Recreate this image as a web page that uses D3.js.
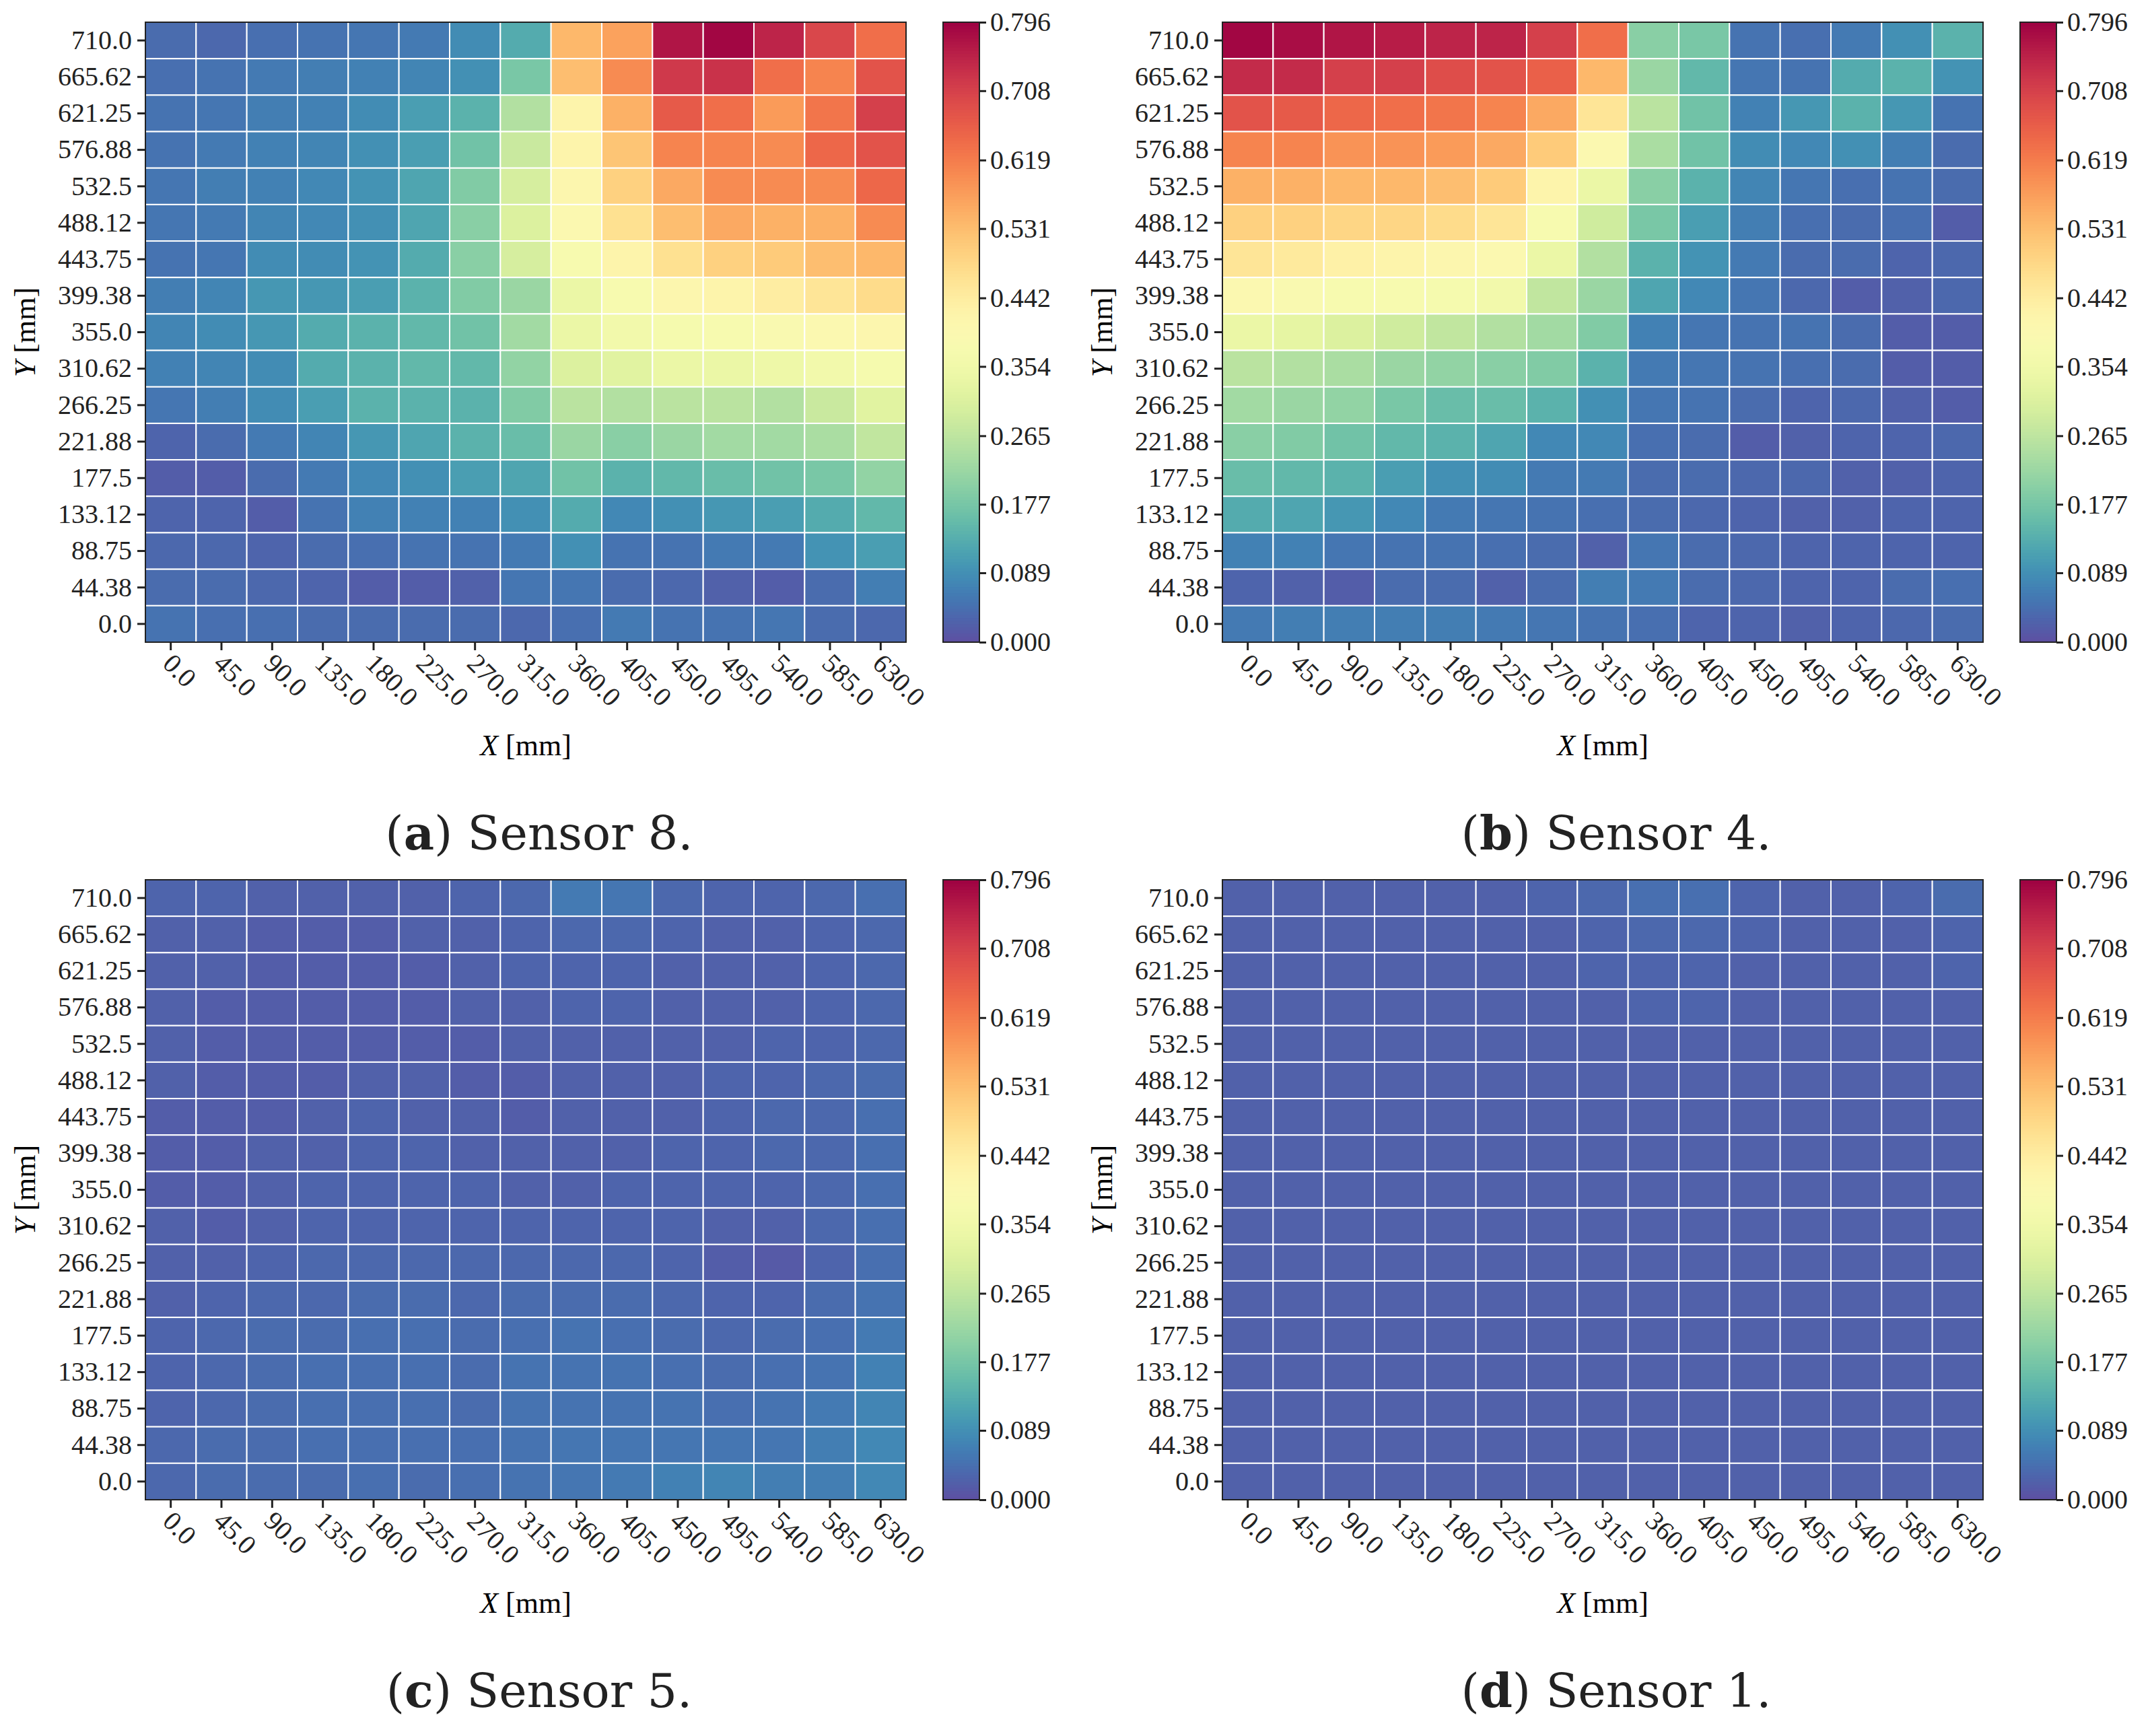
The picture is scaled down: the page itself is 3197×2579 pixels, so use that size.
<!DOCTYPE html>
<html><head><meta charset="utf-8">
<script src="https://cdn.jsdelivr.net/npm/d3@7"></script>
<style>body{margin:0;background:#fff}</style>
</head><body>
<svg id="fig" width="3197" height="2579"></svg>
<script>
var xLabels = ["0.0","45.0","90.0","135.0","180.0","225.0","270.0","315.0","360.0","405.0","450.0","495.0","540.0","585.0","630.0"];
var yLabels = ["710.0","665.62","621.25","576.88","532.5","488.12","443.75","399.38","355.0","310.62","266.25","221.88","177.5","133.12","88.75","44.38","0.0"];
var cbTicks = ["0.000","0.089","0.177","0.265","0.354","0.442","0.531","0.619","0.708","0.796"];
var vmax = 0.796;

// rows from top (710) to bottom (0)
var sensor8 = [
[0.04,0.035,0.045,0.05,0.055,0.06,0.085,0.13,0.54,0.57,0.77,0.79,0.75,0.70,0.64],
[0.045,0.05,0.06,0.065,0.07,0.075,0.09,0.18,0.53,0.60,0.72,0.73,0.64,0.61,0.68],
[0.05,0.055,0.065,0.07,0.085,0.11,0.14,0.25,0.42,0.55,0.67,0.64,0.58,0.63,0.71],
[0.05,0.06,0.07,0.075,0.09,0.11,0.17,0.28,0.42,0.52,0.61,0.61,0.60,0.65,0.68],
[0.055,0.065,0.07,0.08,0.095,0.12,0.19,0.30,0.41,0.50,0.56,0.60,0.60,0.60,0.65],
[0.055,0.06,0.075,0.08,0.09,0.12,0.20,0.31,0.40,0.47,0.53,0.56,0.55,0.55,0.60],
[0.05,0.055,0.085,0.085,0.095,0.13,0.20,0.30,0.38,0.42,0.47,0.50,0.51,0.53,0.54],
[0.065,0.075,0.10,0.10,0.11,0.14,0.19,0.22,0.34,0.38,0.41,0.42,0.44,0.46,0.48],
[0.075,0.085,0.10,0.13,0.14,0.15,0.17,0.23,0.34,0.36,0.37,0.38,0.39,0.40,0.41],
[0.07,0.075,0.085,0.13,0.14,0.15,0.15,0.21,0.31,0.32,0.34,0.34,0.35,0.36,0.37],
[0.055,0.065,0.085,0.11,0.14,0.14,0.14,0.19,0.26,0.25,0.26,0.26,0.25,0.28,0.32],
[0.03,0.04,0.06,0.075,0.10,0.12,0.14,0.16,0.22,0.20,0.22,0.23,0.23,0.24,0.27],
[0.02,0.02,0.04,0.06,0.08,0.09,0.11,0.12,0.17,0.14,0.15,0.16,0.17,0.18,0.21],
[0.03,0.03,0.02,0.05,0.07,0.07,0.07,0.09,0.13,0.08,0.09,0.10,0.11,0.13,0.15],
[0.035,0.035,0.03,0.04,0.045,0.05,0.05,0.06,0.09,0.05,0.05,0.06,0.06,0.095,0.11],
[0.04,0.04,0.035,0.03,0.02,0.02,0.025,0.055,0.055,0.04,0.035,0.025,0.02,0.04,0.065],
[0.05,0.045,0.045,0.04,0.04,0.04,0.04,0.035,0.045,0.06,0.05,0.05,0.055,0.04,0.035]
];
var sensor4 = [
[0.79,0.78,0.77,0.76,0.75,0.75,0.71,0.64,0.20,0.18,0.05,0.045,0.06,0.09,0.14],
[0.74,0.74,0.71,0.71,0.69,0.68,0.66,0.54,0.22,0.15,0.055,0.05,0.13,0.14,0.095],
[0.68,0.67,0.65,0.64,0.63,0.61,0.56,0.46,0.26,0.17,0.07,0.10,0.14,0.10,0.05],
[0.61,0.61,0.59,0.59,0.58,0.56,0.51,0.40,0.24,0.17,0.085,0.08,0.09,0.065,0.04],
[0.55,0.55,0.54,0.54,0.53,0.51,0.42,0.34,0.20,0.14,0.075,0.055,0.045,0.05,0.04],
[0.50,0.50,0.49,0.49,0.48,0.46,0.38,0.29,0.18,0.11,0.065,0.045,0.04,0.045,0.02],
[0.46,0.45,0.43,0.42,0.41,0.40,0.34,0.25,0.14,0.095,0.06,0.04,0.04,0.03,0.035],
[0.40,0.39,0.38,0.38,0.37,0.36,0.27,0.22,0.12,0.08,0.055,0.035,0.02,0.025,0.035],
[0.34,0.33,0.31,0.29,0.27,0.25,0.23,0.19,0.07,0.055,0.05,0.05,0.04,0.02,0.02],
[0.26,0.25,0.24,0.22,0.21,0.20,0.19,0.14,0.06,0.055,0.05,0.045,0.04,0.02,0.02],
[0.23,0.22,0.21,0.18,0.16,0.16,0.14,0.09,0.055,0.05,0.04,0.03,0.035,0.025,0.02],
[0.20,0.19,0.17,0.15,0.14,0.12,0.08,0.08,0.045,0.04,0.02,0.025,0.03,0.03,0.035],
[0.16,0.15,0.14,0.11,0.09,0.085,0.06,0.06,0.04,0.04,0.035,0.035,0.025,0.025,0.03],
[0.13,0.12,0.10,0.08,0.06,0.055,0.05,0.045,0.04,0.035,0.03,0.025,0.025,0.03,0.03],
[0.07,0.07,0.055,0.05,0.05,0.045,0.04,0.025,0.055,0.04,0.035,0.03,0.03,0.03,0.03],
[0.03,0.025,0.02,0.04,0.04,0.025,0.04,0.065,0.06,0.04,0.035,0.03,0.03,0.04,0.045],
[0.06,0.065,0.065,0.065,0.065,0.06,0.055,0.05,0.045,0.03,0.03,0.025,0.03,0.035,0.04]
];
var sensor5 = [
[0.03,0.03,0.025,0.025,0.025,0.025,0.03,0.035,0.06,0.055,0.035,0.03,0.03,0.035,0.045],
[0.025,0.025,0.02,0.02,0.02,0.025,0.025,0.03,0.035,0.035,0.03,0.025,0.025,0.03,0.035],
[0.025,0.025,0.02,0.02,0.02,0.02,0.025,0.03,0.03,0.03,0.025,0.025,0.025,0.03,0.035],
[0.025,0.02,0.02,0.02,0.02,0.02,0.025,0.025,0.03,0.03,0.025,0.025,0.025,0.03,0.035],
[0.025,0.02,0.02,0.02,0.02,0.02,0.02,0.025,0.025,0.025,0.025,0.025,0.03,0.03,0.035],
[0.025,0.02,0.02,0.02,0.025,0.025,0.02,0.02,0.025,0.025,0.025,0.03,0.03,0.035,0.04],
[0.02,0.02,0.02,0.025,0.03,0.025,0.025,0.02,0.025,0.025,0.025,0.03,0.035,0.035,0.045],
[0.02,0.02,0.025,0.025,0.03,0.03,0.025,0.025,0.025,0.025,0.03,0.03,0.035,0.035,0.045],
[0.02,0.02,0.025,0.03,0.03,0.03,0.03,0.025,0.025,0.03,0.03,0.03,0.03,0.035,0.045],
[0.025,0.02,0.025,0.03,0.03,0.03,0.03,0.03,0.03,0.03,0.03,0.025,0.025,0.035,0.045],
[0.025,0.025,0.03,0.035,0.035,0.035,0.035,0.035,0.035,0.035,0.03,0.02,0.015,0.03,0.045],
[0.025,0.03,0.035,0.035,0.04,0.04,0.035,0.04,0.04,0.04,0.035,0.03,0.03,0.04,0.05],
[0.03,0.035,0.04,0.04,0.045,0.045,0.04,0.045,0.05,0.045,0.04,0.035,0.04,0.045,0.06],
[0.03,0.035,0.04,0.045,0.045,0.045,0.04,0.05,0.05,0.05,0.045,0.04,0.045,0.05,0.07],
[0.03,0.035,0.04,0.045,0.045,0.045,0.04,0.05,0.05,0.05,0.05,0.045,0.05,0.06,0.075],
[0.035,0.04,0.04,0.045,0.045,0.045,0.045,0.05,0.055,0.055,0.055,0.055,0.055,0.065,0.08],
[0.035,0.04,0.04,0.04,0.045,0.04,0.045,0.05,0.055,0.06,0.07,0.075,0.065,0.065,0.08]
];
var sensor1 = [
[0.025,0.025,0.025,0.025,0.025,0.025,0.03,0.035,0.045,0.045,0.03,0.025,0.025,0.03,0.04],
[0.025,0.025,0.025,0.025,0.025,0.025,0.025,0.03,0.035,0.035,0.03,0.025,0.025,0.025,0.03],
[0.025,0.025,0.025,0.025,0.025,0.025,0.025,0.03,0.03,0.03,0.025,0.025,0.025,0.025,0.03],
[0.025,0.025,0.025,0.025,0.025,0.025,0.025,0.025,0.03,0.03,0.025,0.025,0.025,0.025,0.025],
[0.025,0.025,0.025,0.025,0.025,0.025,0.025,0.025,0.025,0.025,0.025,0.025,0.025,0.025,0.025],
[0.025,0.025,0.025,0.025,0.025,0.025,0.025,0.025,0.025,0.025,0.025,0.025,0.025,0.025,0.025],
[0.025,0.025,0.025,0.025,0.025,0.025,0.025,0.025,0.025,0.025,0.025,0.025,0.025,0.025,0.025],
[0.025,0.025,0.025,0.025,0.025,0.025,0.025,0.025,0.025,0.025,0.025,0.025,0.025,0.025,0.025],
[0.025,0.025,0.025,0.025,0.025,0.025,0.025,0.025,0.025,0.025,0.025,0.025,0.025,0.025,0.025],
[0.025,0.025,0.025,0.025,0.025,0.025,0.025,0.025,0.025,0.025,0.025,0.025,0.025,0.025,0.025],
[0.025,0.025,0.025,0.025,0.025,0.025,0.025,0.025,0.025,0.025,0.025,0.025,0.025,0.025,0.025],
[0.025,0.025,0.025,0.025,0.025,0.025,0.025,0.025,0.025,0.025,0.025,0.025,0.025,0.025,0.025],
[0.025,0.025,0.025,0.025,0.025,0.025,0.025,0.025,0.025,0.025,0.025,0.025,0.025,0.025,0.025],
[0.025,0.025,0.025,0.025,0.025,0.025,0.025,0.025,0.025,0.025,0.025,0.025,0.025,0.025,0.025],
[0.025,0.025,0.025,0.025,0.025,0.025,0.025,0.025,0.025,0.025,0.025,0.025,0.025,0.025,0.025],
[0.025,0.025,0.025,0.025,0.025,0.025,0.025,0.025,0.025,0.025,0.025,0.025,0.025,0.025,0.025],
[0.025,0.025,0.025,0.025,0.025,0.025,0.025,0.025,0.025,0.025,0.025,0.025,0.025,0.025,0.025]
];

var panels = [
  {letter: "a", title: " Sensor 8.", data: sensor8, dx: 0, dy: 0},
  {letter: "b", title: " Sensor 4.", data: sensor4, dx: 1600, dy: 0},
  {letter: "c", title: " Sensor 5.", data: sensor5, dx: 0, dy: 1274},
  {letter: "d", title: " Sensor 1.", data: sensor1, dx: 1600, dy: 1274}
];

var svg = d3.select("#fig");
var font = "'Liberation Serif', 'DejaVu Serif', serif";
var color = function(v) { return d3.interpolateSpectral(1 - v / vmax); };

var plotL = 216, plotT = 33, plotW = 1130, plotH = 921;
var cbX = 1401, cbW = 54;

panels.forEach(function(p) {
  var g = svg.append("g").attr("transform", "translate(" + p.dx + "," + p.dy + ")");

  var x = d3.scaleBand().domain(xLabels).range([plotL, plotL + plotW]);
  var y = d3.scaleBand().domain(yLabels).range([plotT, plotT + plotH]);

  var cells = [];
  p.data.forEach(function(row, i) {
    row.forEach(function(v, j) { cells.push({x: xLabels[j], y: yLabels[i], v: v}); });
  });

  g.selectAll("rect.cell").data(cells).enter().append("rect")
    .attr("class", "cell")
    .attr("x", function(d) { return x(d.x); })
    .attr("y", function(d) { return y(d.y); })
    .attr("width", x.bandwidth())
    .attr("height", y.bandwidth())
    .attr("fill", function(d) { return color(d.v); })
    .attr("stroke", "#fff")
    .attr("stroke-width", 2);

  g.append("rect").attr("x", plotL).attr("y", plotT).attr("width", plotW).attr("height", plotH)
    .attr("fill", "none").attr("stroke", "#222").attr("stroke-width", 2);

  var xa = g.append("g").attr("transform", "translate(0," + (plotT + plotH) + ")")
    .call(d3.axisBottom(x).tickSize(12).tickSizeOuter(0));
  xa.selectAll("text").attr("font-size", 40).attr("font-family", font).attr("fill", "#222")
    .attr("text-anchor", "start").attr("x", 0).attr("y", 0).attr("dy", 0)
    .attr("transform", "translate(-14,34) rotate(45)");

  var ya = g.append("g").attr("transform", "translate(" + plotL + ",0)")
    .call(d3.axisLeft(y).tickSize(12).tickSizeOuter(0));
  ya.selectAll("text").attr("font-size", 40).attr("font-family", font).attr("fill", "#222").attr("x", -20);
  g.selectAll(".domain").remove();
  g.selectAll(".tick line").attr("stroke", "#222").attr("stroke-width", 3);

  g.append("text").attr("x", plotL + plotW / 2).attr("y", 1122).attr("text-anchor", "middle")
    .attr("font-size", 44).attr("font-family", font)
    .html("<tspan font-style='italic'>X</tspan> [mm]");
  g.append("text").attr("transform", "translate(52," + (plotT + plotH / 2) + ") rotate(-90)")
    .attr("text-anchor", "middle").attr("font-size", 44).attr("font-family", font)
    .html("<tspan font-style='italic'>Y</tspan> [mm]");

  // colorbar
  var cy = d3.scaleLinear().domain([0, vmax]).range([plotT + plotH, plotT]);
  var steps = d3.range(0, 200);
  g.selectAll("rect.cb").data(steps).enter().append("rect")
    .attr("class", "cb")
    .attr("x", cbX)
    .attr("y", function(d) { return cy((d + 1) / 200 * vmax); })
    .attr("width", cbW)
    .attr("height", plotH / 200 + 1)
    .attr("fill", function(d) { return color((d + 0.5) / 200 * vmax); });
  g.append("rect").attr("x", cbX).attr("y", plotT).attr("width", cbW).attr("height", plotH)
    .attr("fill", "none").attr("stroke", "#222").attr("stroke-width", 2);
  var ca = g.append("g").attr("transform", "translate(" + (cbX + cbW) + ",0)")
    .call(d3.axisRight(cy).tickValues(cbTicks.map(Number)).tickFormat(function(d, i) { return cbTicks[i]; }).tickSize(10).tickSizeOuter(0));
  ca.select(".domain").remove();
  ca.selectAll("text").attr("font-size", 40).attr("font-family", font).attr("fill", "#222").attr("x", 16);
  ca.selectAll("line").attr("stroke", "#222").attr("stroke-width", 3);

  g.append("text").attr("x", plotL + plotW / 2 + 20).attr("y", 1262).attr("text-anchor", "middle")
    .attr("font-size", 70).attr("font-family", "'DejaVu Serif', serif").attr("fill", "#222")
    .html("(<tspan font-weight='bold'>" + p.letter + "</tspan>)" + p.title);
});
</script>
</body></html>
